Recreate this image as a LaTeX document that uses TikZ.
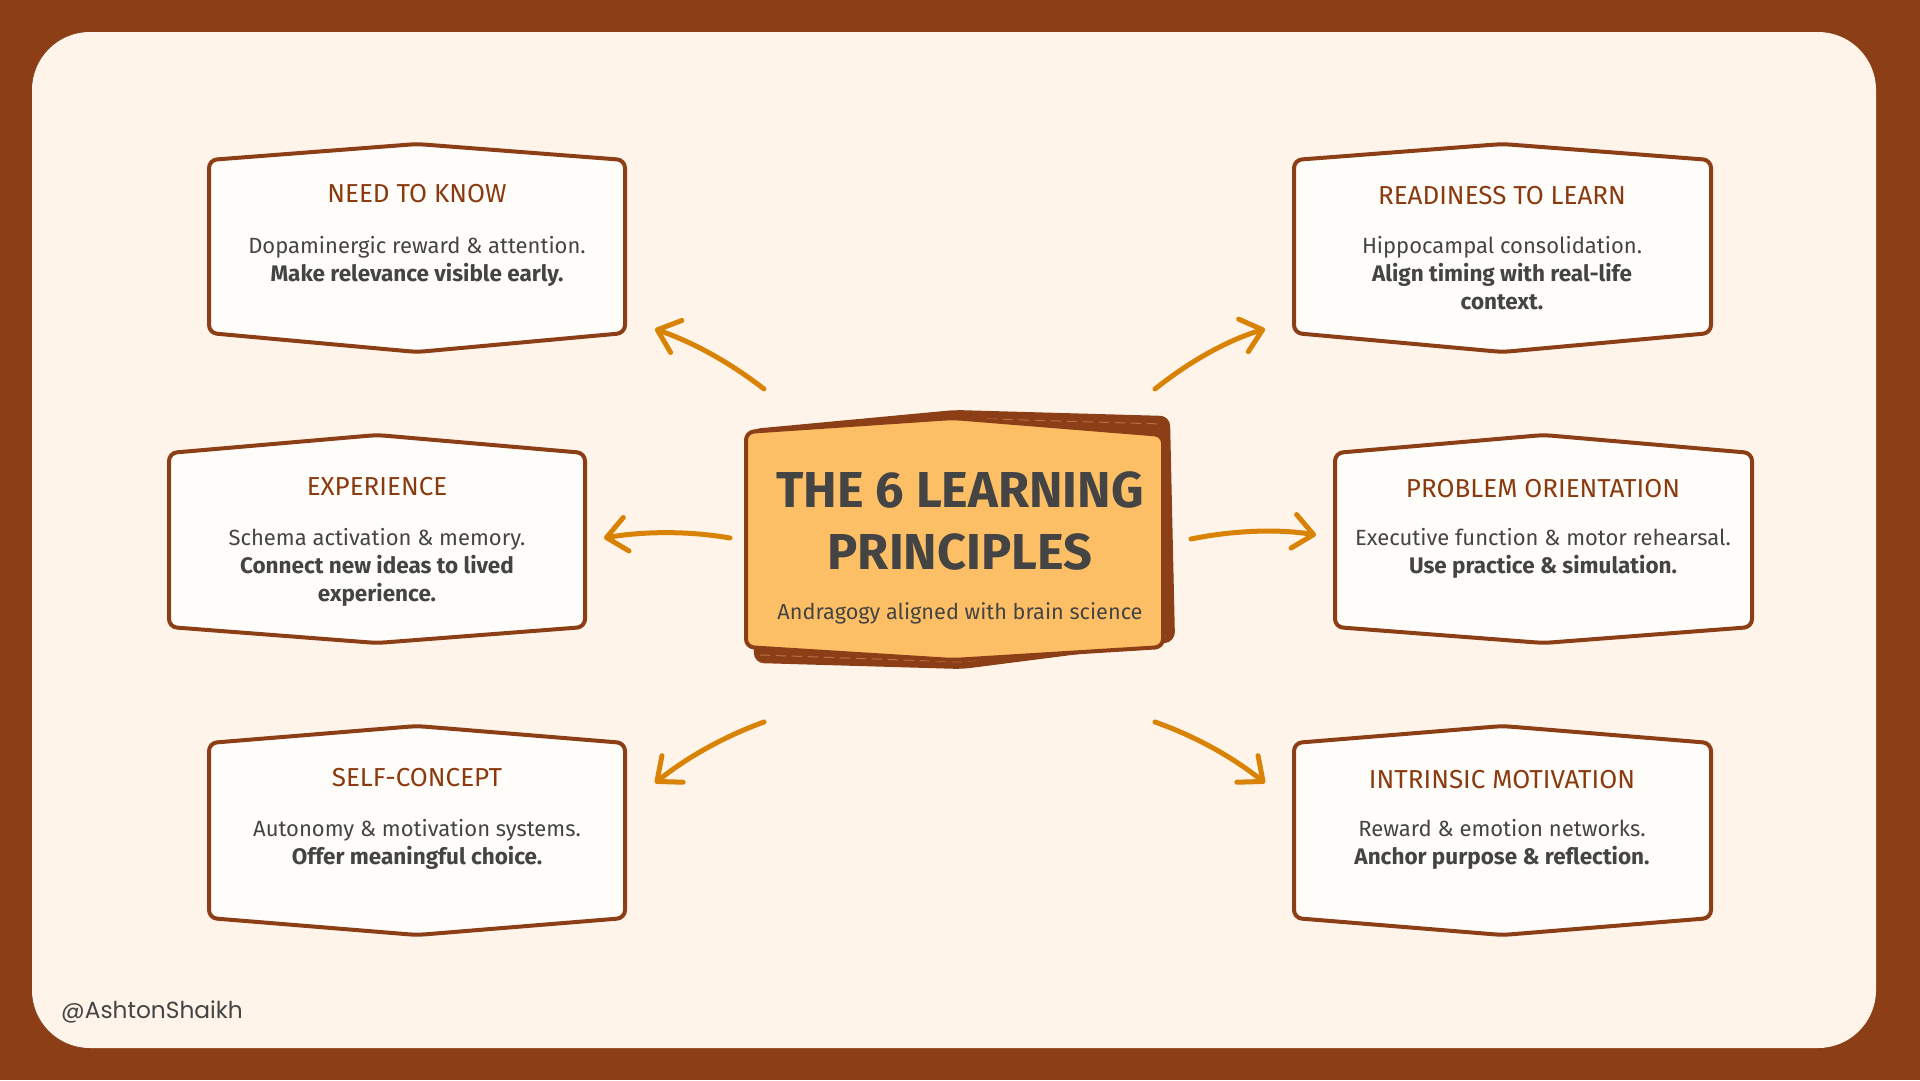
\documentclass[tikz,border=0pt]{standalone}
\usepackage{fontspec}
\setmainfont{Fira Sans}
\newfontfamily\footfont{Poppins}
\usetikzlibrary{arrows.meta}
\definecolor{framebrown}{HTML}{8C3F17}
\definecolor{cream}{HTML}{FEF4E9}
\definecolor{cardfill}{HTML}{FFFDF9}
\definecolor{titlebrown}{HTML}{8B3A0F}
\definecolor{centerfill}{HTML}{FDBF65}
\definecolor{arroworange}{HTML}{D98306}
\definecolor{textgray}{HTML}{444444}
\definecolor{dashbrown}{HTML}{B8703F}
\newcommand\bodybold[1]{{\fontsize{22.5}{28}\bfseries\selectfont #1}}
\tikzset{
  card/.style={draw=framebrown, line width=4pt, fill=cardfill, rounded corners=8pt, line join=round},
  cardtitle/.style={text=titlebrown, font=\fontsize{26}{30}\selectfont, inner sep=0pt, anchor=center},
  cardbody/.style={text=textgray, font=\fontsize{22}{28}\selectfont, inner sep=0pt, align=center, anchor=north},
  flow/.style={draw=arroworange, line width=5pt, line cap=round, line join=round,
    -{Straight Barb[length=20pt,width=34pt,round,line width=5pt]}},
}
\newcommand\hexcard[7]{% name L R Tp Tc Bc Bp
  \path[card] (#2,#5) -- ({(#2+#3)/2},#4) -- (#3,#5) -- (#3,#6) -- ({(#2+#3)/2},#7) -- (#2,#6) -- cycle;
  \coordinate (#1) at ({(#2+#3)/2},{(#4+#7)/2});
}
\begin{document}
\begin{tikzpicture}[x=1pt,y=-1pt]
\useasboundingbox (0,0) rectangle (1920,1080);
\fill[framebrown] (0,0) rectangle (1920,1080);
\fill[cream, rounded corners=58pt] (32,32) rectangle (1876,1048);

% cards
\hexcard{nk}{209}{625}{144}{160}{333}{352}
\hexcard{rd}{1294}{1711}{144}{160}{333}{352}
\hexcard{ex}{169}{585}{435}{453}{627}{643}
\hexcard{po}{1335}{1752}{435}{453}{627}{643}
\hexcard{sc}{209}{625}{726}{743}{918}{935}
\hexcard{im}{1294}{1711}{726}{743}{918}{935}

% texts
\node[cardtitle] (nkt) at (417,194) {NEED TO KNOW};
\node[cardbody] (nkb) at (417,236) {Dopaminergic reward \& attention.\\\bodybold{Make relevance visible early.}};

\node[cardtitle] (rdt) at (1502,196) {READINESS TO LEARN};
\node[cardbody] (rdb) at (1502,236) {Hippocampal consolidation.\\\bodybold{Align timing with real-life}\\\bodybold{context.}};

\node[cardtitle] (ext) at (377,487) {EXPERIENCE};
\node[cardbody] (exb) at (377,528) {Schema activation \& memory.\\\bodybold{Connect new ideas to lived}\\\bodybold{experience.}};

\node[cardtitle] (pot) at (1543,489) {PROBLEM ORIENTATION};
\node[cardbody] (pob) at (1543,528) {Executive function \& motor rehearsal.\\\bodybold{Use practice \& simulation.}};

\node[cardtitle] (sct) at (417,778) {SELF-CONCEPT};
\node[cardbody] (scb) at (417,819) {Autonomy \& motivation systems.\\\bodybold{Offer meaningful choice.}};

\node[cardtitle] (imt) at (1502,780) {INTRINSIC MOTIVATION};
\node[cardbody] (imb) at (1502,819) {Reward \& emotion networks.\\\bodybold{Anchor purpose \& reflection.}};

% center card (back layer)
\path[fill=framebrown, draw=framebrown, line width=4pt, rounded corners=8pt, line join=round]
  (752,431) -- (955,412) -- (1168,418) -- (1173,640) -- (962,667) -- (756,661) -- cycle;
\draw[dashbrown, line width=1pt, dash pattern=on 10pt off 6pt]
  (955,418) -- (1163,424);
\draw[dashbrown, line width=1pt, dash pattern=on 10pt off 6pt]
  (760,655) -- (962,662) -- (1166,636);
% front
\path[fill=centerfill, draw=framebrown, line width=4pt, rounded corners=8pt, line join=round]
  (746,432) -- (953,418) -- (1163,435) -- (1163,647) -- (953,660) -- (746,647) -- cycle;
\coordinate (ctr) at (953,540);
\node[text=textgray, font=\fontsize{50.5}{62}\bfseries\selectfont, align=center, inner sep=0pt]
  (title) at (960,521) {THE 6 LEARNING\\PRINCIPLES};
\node[text=textgray, font=\fontsize{21.7}{26}\selectfont, inner sep=0pt]
  (sub) at (960,613) {Andragogy aligned with brain science};

% arrows
\coordinate (a1s) at (764,389); \coordinate (a1e) at (655,329);
\coordinate (a2s) at (1155,389); \coordinate (a2e) at (1265,329);
\coordinate (a3s) at (730,538); \coordinate (a3e) at (604,538);
\coordinate (a4s) at (1191,539); \coordinate (a4e) at (1316,535);
\coordinate (a5s) at (764,722); \coordinate (a5e) at (655,783);
\coordinate (a6s) at (1155,722); \coordinate (a6e) at (1265,783);
\draw[flow] (a1s) .. controls (728,361) and (692,342) .. (a1e);
\draw[flow] (a2s) .. controls (1190,361) and (1228,340) .. (a2e);
\draw[flow] (a3s) .. controls (690,531) and (645,531) .. (a3e);
\draw[flow] (a4s) .. controls (1235,530) and (1280,529) .. (a4e);
\draw[flow] (a5s) .. controls (728,735) and (690,755) .. (a5e);
\draw[flow] (a6s) .. controls (1192,735) and (1230,755) .. (a6e);

% footer
\node[text=textgray, font=\footfont\fontsize{23.3}{28}\selectfont, anchor=west, inner sep=0pt]
  (handle) at (61,1012) {@AshtonShaikh};
\end{tikzpicture}
\end{document}
